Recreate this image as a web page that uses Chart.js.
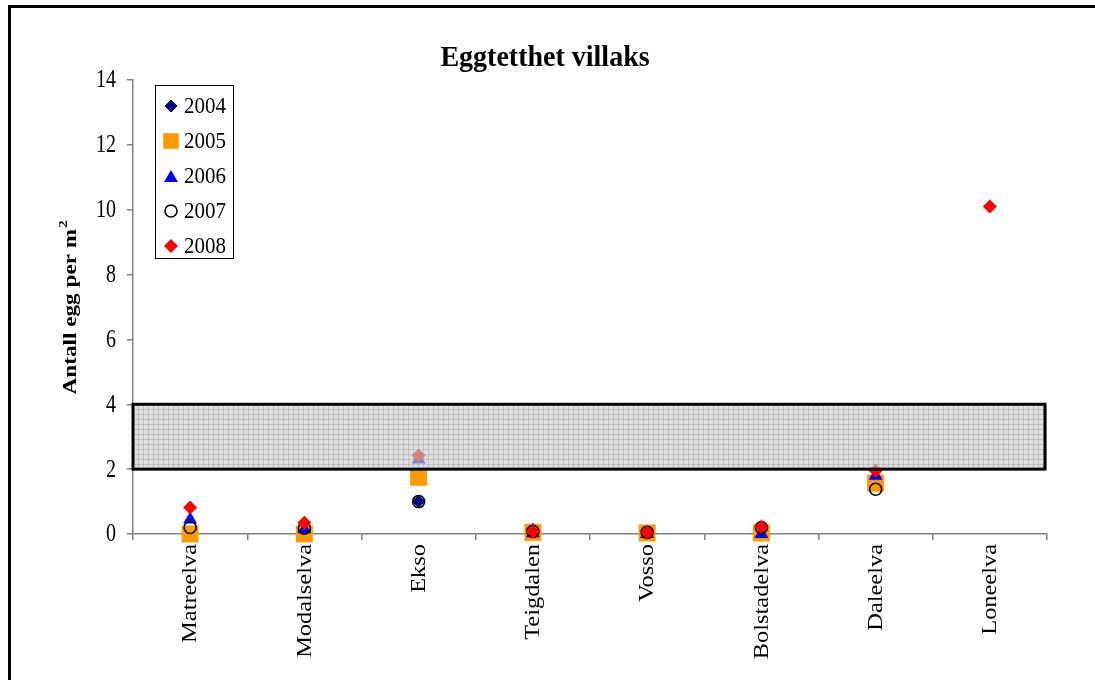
<!DOCTYPE html>
<html>
<head>
<meta charset="utf-8">
<script src="https://cdn.jsdelivr.net/npm/chart.js@4/dist/chart.umd.min.js"></script>
<style>
  html, body { margin: 0; padding: 0; background: #fff; }
  #wrap { width: 1095px; height: 680px; }
</style>
</head>
<body>
<div id="wrap"><canvas id="eggChart" width="1095" height="680"></canvas></div>
<script>
// Elver langs x-aksen
const elver = ['Matreelva', 'Modalselva', 'Ekso', 'Teigdalen', 'Vosso', 'Bolstadelva', 'Daleelva', 'Loneelva'];

// Antall egg per m2, ett array per år
const egg2004 = [0, 0.05, 1.0, 0.15, 0.05, 0.1, 1.5, null];
const egg2005 = [0, 0, 1.75, 0.05, 0.03, 0.03, 1.57, null];
const egg2006 = [0.45, 0.15, 2.3, 0.02, 0, 0, 1.8, null];
const egg2007 = [0.2, 0.18, 1.0, 0.08, 0.05, 0.2, 1.38, null];
const egg2008 = [0.82, 0.35, 2.42, 0.07, 0.05, 0.22, 1.95, 10.1];

// Referanseområde (skravert bånd)
const bandFra = 2;
const bandTil = 4;

const yTicks = [0, 2, 4, 6, 8, 10, 12, 14];

const serif = '"Liberation Serif", "Times New Roman", serif';
const hoyde = 1.22; // teksten er litt strukket i høyden

const serier = [
  { label: '2004', data: egg2004, pointStyle: 'rectRot', radius: 6, bg: '#000080', border: '#000080', bw: 1, order: 5 },
  { label: '2005', data: egg2005, pointStyle: 'rect', radius: 12, bg: '#ff9900', border: '#ff9900', bw: 0, order: 4 },
  { label: '2006', data: egg2006, pointStyle: 'triangle', radius: 8, bg: '#0000ff', border: '#0000ff', bw: 0, order: 3 },
  { label: '2007', data: egg2007, pointStyle: 'circle', radius: 6, bg: 'rgba(0,0,0,0)', border: '#000000', bw: 1.6, order: 2 },
  { label: '2008', data: egg2008, pointStyle: 'rectRot', radius: 7, bg: '#ff0000', border: '#ff0000', bw: 0, order: 1 }
];

function strekkTekst(ctx, tekst, x, y, font, align, baseline, rot, sy) {
  ctx.save();
  ctx.translate(x, y);
  ctx.scale(1, sy);
  ctx.rotate(rot);
  ctx.font = font;
  ctx.textAlign = align;
  ctx.textBaseline = baseline;
  ctx.fillStyle = '#000';
  ctx.fillText(tekst, 0, 0);
  ctx.restore();
}

// Ramme, tittel, bånd, aksetekster og forklaring tegnes her
const tegnExtra = {
  id: 'tegnExtra',
  beforeDraw(chart) {
    const ctx = chart.ctx;
    ctx.save();
    ctx.fillStyle = '#fff';
    ctx.fillRect(0, 0, chart.width, chart.height);
    ctx.strokeStyle = '#000';
    ctx.lineWidth = 3;
    ctx.beginPath();
    ctx.moveTo(9.5, chart.height);
    ctx.lineTo(9.5, 6.5);
    ctx.lineTo(chart.width, 6.5);
    ctx.stroke();
    ctx.restore();
  },
  afterDatasetsDraw(chart) {
    const ctx = chart.ctx;
    const x = chart.scales.x, y = chart.scales.y;
    const x0 = x.left, x1 = x.right;
    const yTop = y.getPixelForValue(bandTil), yBot = y.getPixelForValue(bandFra);
    ctx.save();
    ctx.fillStyle = 'rgba(205,205,205,0.62)';
    ctx.fillRect(x0, yTop, x1 - x0, yBot - yTop);
    // rutemønster
    ctx.strokeStyle = 'rgba(150,150,150,0.4)';
    ctx.lineWidth = 1;
    ctx.beginPath();
    for (let gx = x0 + 5; gx < x1; gx += 5) {
      ctx.moveTo(Math.round(gx) + 0.5, yTop);
      ctx.lineTo(Math.round(gx) + 0.5, yBot);
    }
    for (let gy = yTop + 5; gy < yBot; gy += 5) {
      ctx.moveTo(x0, Math.round(gy) + 0.5);
      ctx.lineTo(x1, Math.round(gy) + 0.5);
    }
    ctx.stroke();
    ctx.strokeStyle = '#000';
    ctx.lineWidth = 3;
    ctx.strokeRect(x0, yTop, x1 - x0 - 2, yBot - yTop);
    ctx.restore();
  },
  afterDraw(chart) {
    const ctx = chart.ctx;
    const xs = chart.scales.x, ys = chart.scales.y;

    // tittel
    strekkTekst(ctx, 'Eggtetthet villaks', 545, 58, 'bold 28px ' + serif, 'center', 'middle', 0, 1.05);

    // y-akse: tall
    yTicks.forEach(v => {
      strekkTekst(ctx, String(v), 116, ys.getPixelForValue(v) + 1, '20px ' + serif, 'right', 'middle', 0, hoyde);
    });

    // y-akse: tittel med hevet 2-tall
    ctx.save();
    ctx.translate(71, 308);
    ctx.scale(1, hoyde);
    ctx.rotate(-Math.PI / 2);
    ctx.fillStyle = '#000';
    ctx.textBaseline = 'middle';
    ctx.textAlign = 'left';
    const hoved = 'Antall egg per m';
    ctx.font = 'bold 19px ' + serif;
    const w1 = ctx.measureText(hoved).width;
    ctx.font = 'bold 12px ' + serif;
    const w2 = ctx.measureText('2').width;
    const start = -(w1 + w2) / 2;
    ctx.font = 'bold 19px ' + serif;
    ctx.fillText(hoved, start, 0);
    ctx.font = 'bold 12px ' + serif;
    ctx.fillText('2', start + w1 + 1, -7);
    ctx.restore();

    // x-akse: elvenavn, rotert
    elver.forEach((navn, i) => {
      strekkTekst(ctx, navn, xs.getPixelForTick(i) + 1, 544, '20px ' + serif, 'right', 'middle', -Math.PI / 2, hoyde);
    });

    // forklaring
    ctx.save();
    const lx = 155, ly = 85, lw = 78, lh = 173;
    ctx.fillStyle = '#fff';
    ctx.fillRect(lx, ly, lw, lh);
    ctx.strokeStyle = '#000';
    ctx.lineWidth = 1;
    ctx.strokeRect(lx + 0.5, ly + 0.5, lw, lh);
    serier.forEach((s, i) => {
      const cy = 106 + i * 35;
      ctx.fillStyle = s.bg;
      ctx.strokeStyle = s.border;
      ctx.lineWidth = s.bw;
      Chart.helpers.drawPoint(ctx, {
        pointStyle: s.pointStyle,
        radius: s.pointStyle === 'rect' ? 11 : s.radius,
        rotation: 0,
        borderWidth: s.bw
      }, 171, s.pointStyle === 'triangle' ? cy + 2 : cy);
      strekkTekst(ctx, s.label, 184, cy + 1, '21px ' + serif, 'left', 'middle', 0, 1.1);
    });
    ctx.restore();
  }
};

const ctx = document.getElementById('eggChart');

new Chart(ctx, {
  type: 'line',
  data: {
    labels: elver,
    datasets: serier.map(s => ({
      label: s.label,
      data: s.data,
      showLine: false,
      pointStyle: s.pointStyle,
      pointRadius: s.radius,
      pointHoverRadius: s.radius,
      pointBackgroundColor: s.bg,
      pointBorderColor: s.border,
      pointBorderWidth: s.bw,
      backgroundColor: s.bg,
      borderColor: s.border,
      order: s.order,
      clip: false
    }))
  },
  options: {
    responsive: false,
    animation: false,
    events: [],
    layout: { padding: { top: 80, right: 48, left: 0, bottom: 0 } },
    plugins: {
      legend: { display: false },
      title: { display: false },
      tooltip: { enabled: false }
    },
    scales: {
      x: {
        type: 'category',
        offset: true,
        afterFit: (scale) => { scale.height = 146; },
        grid: {
          offset: true,
          drawOnChartArea: false,
          drawTicks: true,
          tickLength: 6,
          color: '#808080',
          lineWidth: 1.5
        },
        border: { color: '#808080', width: 1.5 },
        ticks: { display: false, autoSkip: false }
      },
      y: {
        min: 0,
        max: 14,
        afterFit: (scale) => { scale.width = 133; },
        afterBuildTicks: (scale) => { scale.ticks = yTicks.map(v => ({ value: v })); },
        grid: {
          drawOnChartArea: false,
          drawTicks: true,
          tickLength: 6,
          color: '#808080',
          lineWidth: 1.5
        },
        border: { color: '#808080', width: 1.5 },
        ticks: { display: false }
      }
    }
  },
  plugins: [tegnExtra]
});
</script>
</body>
</html>
